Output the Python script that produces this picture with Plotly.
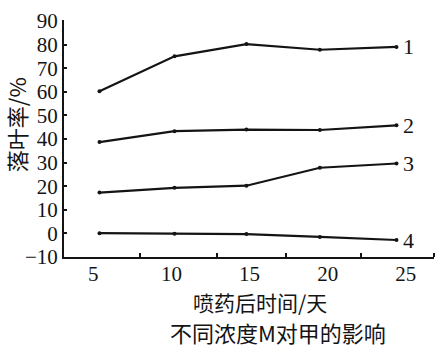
import plotly.graph_objects as go

days = [5.4, 10.2, 14.8, 19.5, 24.4]
series_names = ["1", "2", "3", "4"]
s1 = [60.2, 75.0, 80.2, 77.8, 79.0]
s2 = [38.7, 43.3, 44.0, 43.8, 45.8]
s3 = [17.3, 19.3, 20.2, 27.8, 29.6]
s4 = [0.1, -0.1, -0.3, -1.5, -2.8]
series = [s1, s2, s3, s4]

x_ticks = [5, 10, 15, 20, 25]
x_minor = [8.0, 12.9, 17.3, 22.1, 26.8]
y_ticks = [-10, 0, 10, 20, 30, 40, 50, 60, 70, 80, 90]

y_title = "落叶率/%"
x_title = "喷药后时间/天"
caption = "不同浓度M对甲的影响"

serif = "Liberation Serif"
cjk = "Noto Sans CJK SC"
ink = "#141414"

fig = go.Figure()
for name, vals in zip(series_names, series):
    fig.add_trace(go.Scatter(
        x=days, y=vals, mode="lines+markers", name=name,
        line=dict(color=ink, width=2.2),
        marker=dict(color=ink, size=4),
        showlegend=False, hoverinfo="skip",
    ))
    fig.add_annotation(
        x=days[-1], y=vals[-1], text=name, showarrow=False,
        xanchor="left", yanchor="middle", xshift=5, yshift=0,
        font=dict(family=serif, size=22, color=ink),
    )

fig.add_annotation(
    xref="paper", yref="paper", x=-0.13, y=0.56, text=y_title,
    textangle=-90, showarrow=False, xanchor="center", yanchor="middle",
    font=dict(family=cjk, size=22, color=ink),
)
fig.add_annotation(
    xref="paper", yref="paper", x=0.53, y=-0.19, text=x_title,
    showarrow=False, xanchor="center", yanchor="middle",
    font=dict(family=cjk, size=21, color=ink),
)
fig.add_annotation(
    xref="paper", yref="paper", x=0.578, y=-0.318, text=caption,
    showarrow=False, xanchor="center", yanchor="middle",
    font=dict(family=cjk, size=22, color=ink),
)

fig.update_layout(
    width=443, height=351,
    margin=dict(l=64, r=9, t=12, b=94),
    paper_bgcolor="white", plot_bgcolor="white",
    xaxis=dict(
        range=[3.13, 26.8], tickmode="array", tickvals=x_ticks,
        ticktext=[str(v) for v in x_ticks], ticks="", showgrid=False,
        zeroline=False, showline=True, linecolor=ink, linewidth=2,
        tickfont=dict(family=serif, size=21, color=ink),
        ticklabelstandoff=-3,
        minor=dict(tickmode="array", tickvals=x_minor, ticks="inside",
                   ticklen=4, tickcolor=ink, tickwidth=1.5, showgrid=False),
        fixedrange=True,
    ),
    yaxis=dict(
        range=[-10, 90.4], tickmode="array", tickvals=y_ticks,
        ticks="inside", ticklen=3, tickcolor=ink, tickwidth=1.5,
        showgrid=False, zeroline=False, showline=True, linecolor=ink,
        linewidth=2, tickfont=dict(family=serif, size=21, color=ink),
        fixedrange=True,
    ),
)

fig.write_html("out.html")
